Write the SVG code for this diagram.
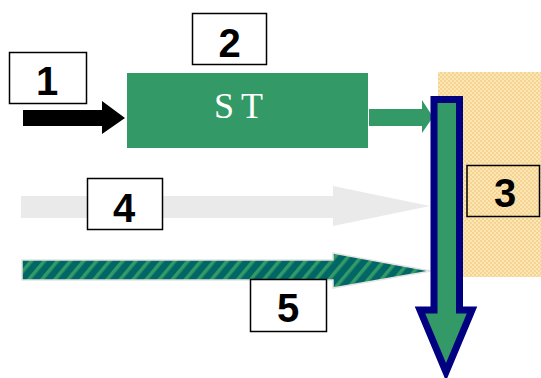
<svg xmlns="http://www.w3.org/2000/svg" width="541" height="378" viewBox="0 0 541 378">
<style>
.lbl{fill:#fff;stroke:#000;stroke-width:1.5}
.num{font-family:"Liberation Sans",Arial,sans-serif;font-weight:bold;font-size:40px;text-anchor:middle;fill:#000}
.st{font-family:"Liberation Serif","Times New Roman",serif;font-size:36px;fill:#fff;text-anchor:middle;letter-spacing:7px}
</style>
<defs>
<pattern id="hatch" width="10" height="10" patternUnits="userSpaceOnUse" patternTransform="rotate(40)">
<rect width="10" height="10" fill="#006666"/>
<rect width="3.5" height="10" fill="#339966"/>
</pattern>
<pattern id="dots" width="4" height="4" patternUnits="userSpaceOnUse">
<rect width="4" height="4" fill="#FBE6B4"/>
<rect width="2" height="2" fill="#F5D493"/>
<rect x="2" y="2" width="2" height="2" fill="#F5D493"/>
</pattern>
</defs>
<rect width="541" height="378" fill="#fff"/>
<g id="region3">
<rect x="438" y="72" width="103" height="205" fill="url(#dots)"/>
</g>
<g id="connectors">
<polygon id="arrow1" points="23,110 102,110 102,101 125,118 102,134 102,126 23,126" fill="#000"/>
<polygon id="arrowST" points="369,109 422,109 422,100 433,117 422,133 422,126 369,126" fill="#339966"/>
<polygon id="arrow4" points="21,196 333,196 333,186 430,206 333,226 333,218 21,218" fill="#EAEAEA"/>
<polygon id="arrow5" points="22,260 333,260 333,253 431,271 333,288 333,280 22,280" fill="url(#hatch)" stroke="#e4e4e4" stroke-width="1.5"/>
<polygon id="arrowDown" points="434,99.5 459.5,99.5 459.5,310 472,310 446,372 420,310 434,310" fill="#339966" stroke="#000080" stroke-width="7" stroke-linejoin="miter"/>
</g>
<g id="nodeST">
<rect x="127" y="73" width="241" height="75" fill="#339966"/>
<text class="st" x="242" y="118">ST</text>
</g>
<g id="label1">
<rect class="lbl" x="9.5" y="52.5" width="77" height="51"/>
<text class="num" x="47" y="95">1</text>
</g>
<g id="label2">
<rect class="lbl" x="192.5" y="13.5" width="74" height="51"/>
<text class="num" x="229.5" y="57">2</text>
</g>
<g id="label3">
<rect x="467" y="165.5" width="72.5" height="51" fill="url(#dots)" stroke="#000" stroke-width="1.5"/>
<text class="num" x="505" y="207">3</text>
</g>
<g id="label4">
<rect class="lbl" x="87.5" y="178.5" width="75" height="51"/>
<text class="num" x="124" y="222">4</text>
</g>
<g id="label5">
<rect class="lbl" x="250.5" y="279.5" width="76" height="52"/>
<text class="num" x="288" y="322">5</text>
</g>
</svg>
